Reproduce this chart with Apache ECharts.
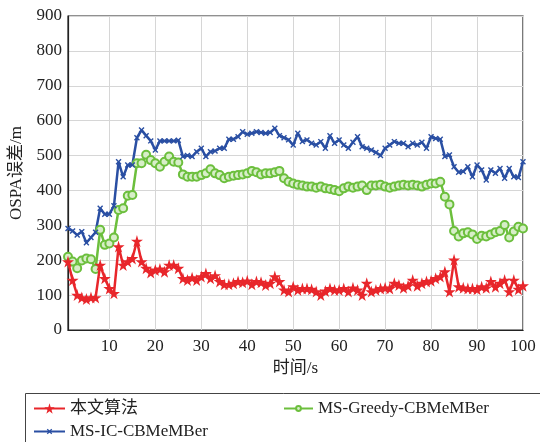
<!DOCTYPE html>
<html>
<head>
<meta charset="utf-8">
<script src="https://cdn.jsdelivr.net/npm/echarts@6/dist/echarts.min.js"></script>
<style>
  html, body { margin: 0; padding: 0; background: #fff; }
  #chart { width: 540px; height: 442px; }
</style>
</head>
<body>
<div id="chart"></div>
<script>
// Time steps (s)
const times = Array.from({ length: 100 }, (_, i) => String(i + 1));

// OSPA error (m) for each method
const proposed = [
  196, 143, 100, 93, 89, 93, 93, 186, 148, 119,
  105, 239, 186, 196, 205, 255, 196, 177, 165, 172,
  175, 167, 186, 186, 177, 148, 143, 150, 143, 153,
  162, 148, 156, 139, 131, 131, 134, 139, 137, 141,
  131, 139, 137, 129, 134, 153, 139, 115, 110, 124,
  115, 119, 119, 117, 110, 100, 112, 119, 115, 115,
  119, 110, 121, 115, 100, 134, 110, 115, 119, 121,
  119, 134, 129, 121, 127, 143, 127, 134, 139, 141,
  148, 153, 167, 110, 201, 124, 121, 119, 119, 117,
  124, 121, 139, 124, 134, 143, 110, 143, 117, 127
];
const greedy = [
  210, 196, 177, 199, 205, 203, 175, 287, 244, 248,
  265, 344, 349, 385, 387, 478, 478, 502, 487, 478,
  468, 482, 497, 482, 480, 446, 439, 439, 439, 444,
  449, 461, 449, 444, 435, 439, 442, 444, 446, 449,
  456, 452, 446, 449, 449, 452, 456, 435, 425, 420,
  416, 414, 411, 411, 408, 411, 406, 404, 401, 398,
  406, 411, 408, 411, 414, 401, 414, 414, 416, 411,
  408, 411, 414, 416, 414, 416, 414, 411, 416, 420,
  420, 425, 382, 360, 284, 268, 277, 280, 274, 261,
  270, 268, 274, 280, 284, 301, 265, 282, 296, 291
];
const ic = [
  291, 284, 272, 282, 250, 265, 280, 349, 332, 332,
  356, 482, 439, 473, 473, 551, 573, 557, 542, 516,
  542, 542, 542, 542, 544, 497, 500, 497, 511, 521,
  497, 511, 513, 521, 521, 547, 547, 554, 568, 561,
  564, 568, 566, 564, 566, 578, 557, 551, 545, 530,
  564, 540, 545, 535, 530, 540, 521, 557, 535, 545,
  530, 521, 538, 554, 525, 521, 516, 509, 500, 521,
  530, 540, 535, 535, 525, 535, 530, 538, 521, 554,
  549, 547, 497, 502, 468, 452, 454, 468, 439, 473,
  459, 430, 459, 449, 463, 435, 463, 439, 437, 482
];

const seriesNames = ['本文算法', 'MS-Greedy-CBMeMBer', 'MS-IC-CBMeMBer'];
const yTicks = { min: 0, max: 900, step: 100 };

const RED = '#e8262b';
const GREEN = '#6cbf3d';
const BLUE = '#2a4fa3';
const FONT = '"Liberation Serif", "Noto Sans CJK SC", serif';

const starPath = 'path://M50,0 L61,35 L98,35 L68,57 L79,91 L50,70 L21,91 L32,57 L2,35 L39,35 Z';
const asteriskPath = 'path://M4,0 L6,0 L6,4 L10,4 L10,6 L6,6 L6,10 L4,10 L4,6 L0,6 L0,4 L4,4 Z';

const every10 = (idx) => (idx + 1) % 10 === 0;

const chart = echarts.init(document.getElementById('chart'), null, { renderer: 'canvas' });

const legendText = { fontFamily: FONT, fontSize: 17, color: '#222' };

chart.setOption({
  animation: false,
  backgroundColor: '#fff',
  grid: {
    left: 68, right: 17, top: 16, bottom: 112,
    show: true, borderColor: '#222', borderWidth: 1.2, backgroundColor: 'transparent'
  },
  legend: [
    { data: [seriesNames[0]], left: 28, top: 395, itemWidth: 31, itemHeight: 13, itemGap: 5, textStyle: legendText },
    { data: [seriesNames[1]], left: 278, top: 395, itemWidth: 29, itemHeight: 6, itemGap: 5, textStyle: legendText },
    { data: [seriesNames[2]], left: 28, top: 418, itemWidth: 31, itemHeight: 8, itemGap: 5, textStyle: legendText }
  ],
  graphic: [{
    type: 'rect',
    shape: { x: 25.5, y: 393.5, width: 530, height: 60 },
    style: { fill: 'none', stroke: '#444', lineWidth: 1 },
    silent: true
  }],
  xAxis: {
    type: 'category',
    data: times,
    boundaryGap: false,
    name: '时间/s',
    nameLocation: 'middle',
    nameGap: 28,
    nameTextStyle: { fontFamily: FONT, fontSize: 17, color: '#222' },
    axisLine: { show: true, lineStyle: { color: '#222', width: 1.2 } },
    axisTick: { show: false },
    axisLabel: {
      interval: every10,
      fontFamily: FONT, fontSize: 17, color: '#222', margin: 8
    },
    splitLine: { show: true, interval: every10, lineStyle: { color: '#d6d6d6', width: 1 } }
  },
  yAxis: {
    type: 'value',
    min: yTicks.min, max: yTicks.max, interval: yTicks.step,
    name: 'OSPA误差/m',
    nameLocation: 'middle',
    nameGap: 43,
    nameTextStyle: { fontFamily: FONT, fontSize: 17, color: '#222' },
    axisLine: { show: true, lineStyle: { color: '#222', width: 1.2 } },
    axisTick: { show: false },
    axisLabel: { fontFamily: FONT, fontSize: 17, color: '#222', margin: 6 },
    splitLine: { show: true, lineStyle: { color: '#d6d6d6', width: 1 } }
  },
  series: [
    {
      name: seriesNames[0], type: 'line', data: proposed,
      symbol: starPath, symbolSize: 12, showAllSymbol: true,
      lineStyle: { color: RED, width: 2.5 },
      itemStyle: { color: RED, borderWidth: 0 },
      z: 3
    },
    {
      name: seriesNames[1], type: 'line', data: greedy,
      symbol: 'circle', symbolSize: 8, showAllSymbol: true,
      lineStyle: { color: GREEN, width: 2.5 },
      itemStyle: { color: '#d7eec8', borderColor: GREEN, borderWidth: 2 },
      z: 2
    },
    {
      name: seriesNames[2], type: 'line', data: ic,
      symbol: asteriskPath, symbolSize: 7, symbolRotate: 45, showAllSymbol: true,
      lineStyle: { color: BLUE, width: 2.5 },
      itemStyle: { color: BLUE, borderWidth: 0 },
      z: 2
    }
  ]
});
</script>
</body>
</html>
